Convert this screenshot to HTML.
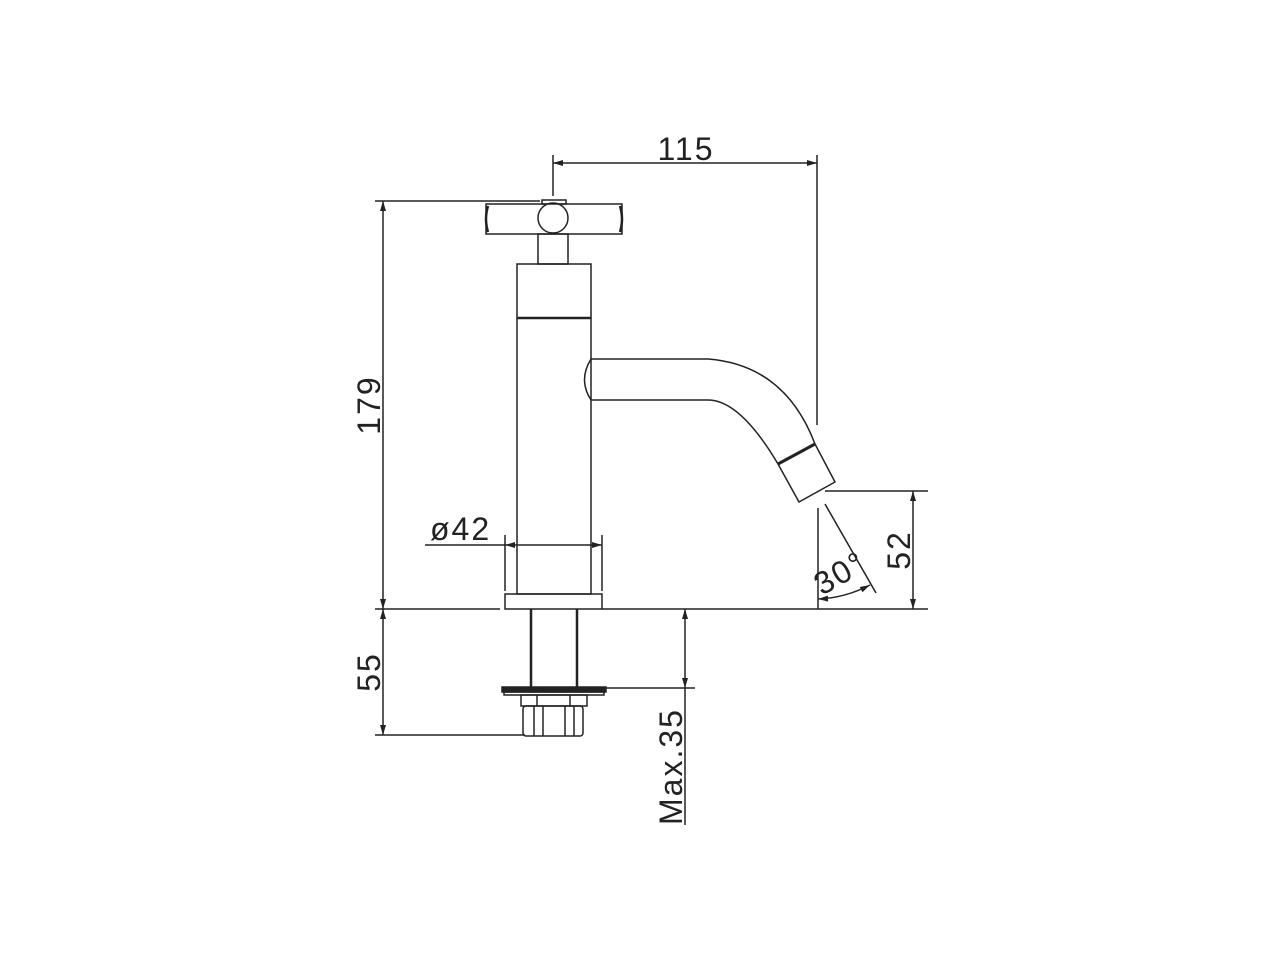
<!DOCTYPE html>
<html><head><style>body{margin:0;background:#fff}svg{display:block}text{font-family:"Liberation Sans",sans-serif;font-size:32px;fill:#222;letter-spacing:2px}</style></head><body>
<svg width="1280" height="960" viewBox="0 0 1280 960" stroke="#222" stroke-width="1.5" fill="none">
<defs><marker id="a" viewBox="0 0 10 6" refX="10" refY="3" markerWidth="14" markerHeight="6" markerUnits="userSpaceOnUse" orient="auto-start-reverse"><path d="M0,0L10,3L0,6z" fill="#222" stroke="none"/></marker></defs>
<rect x="486" y="204" width="136" height="30"/>
<path d="M488,206 Q484,219 488,232 M620,206 Q624,219 620,232" stroke-width="2.5"/>
<circle cx="553" cy="218" r="15" fill="#fff"/>
<rect x="542" y="200" width="24" height="4"/>
<rect x="538" y="234" width="30" height="30"/>
<rect x="517" y="264" width="74" height="330"/>
<line x1="517" y1="318" x2="591" y2="318" stroke-width="2.5"/>
<path d="M591,359 L708,359 Q785,365 815,444 L835,482 L799,502 L778,464 Q740,400 708,400 L591,400"/>
<path d="M591,359 Q578,380 591,400"/>
<line x1="778" y1="464" x2="815" y2="444" stroke-width="3"/>
<rect x="505" y="594" width="97" height="15"/>
<line x1="375" y1="609" x2="500" y2="609"/>
<line x1="602" y1="609" x2="928" y2="609"/>
<line x1="531" y1="609" x2="531" y2="688" stroke-width="2.5"/>
<line x1="577" y1="609" x2="577" y2="688" stroke-width="2.5"/>
<rect x="502" y="687" width="104" height="5" fill="#222"/>
<rect x="504" y="692" width="100" height="3"/>
<rect x="521" y="695" width="66" height="11"/>
<line x1="537" y1="695" x2="537" y2="706"/><line x1="570" y1="695" x2="570" y2="706"/>
<rect x="523" y="706" width="60" height="30" rx="3"/>
<line x1="534" y1="706" x2="534" y2="736"/><line x1="543" y1="706" x2="543" y2="736"/>
<line x1="565" y1="706" x2="565" y2="736"/><line x1="574" y1="706" x2="574" y2="736"/>
<line x1="606" y1="688" x2="695" y2="688"/>
<line x1="553" y1="155" x2="553" y2="196"/>
<line x1="817" y1="155" x2="817" y2="425"/>
<line x1="553" y1="163" x2="817" y2="163" marker-start="url(#a)" marker-end="url(#a)"/>
<text x="686" y="160" text-anchor="middle" stroke="none">115</text>
<line x1="375" y1="201" x2="540" y2="201"/>
<line x1="383" y1="201" x2="383" y2="609" marker-start="url(#a)" marker-end="url(#a)"/>
<text transform="translate(380,405) rotate(-90)" text-anchor="middle" stroke="none">179</text>
<line x1="375" y1="735" x2="525" y2="735"/>
<line x1="383" y1="609" x2="383" y2="735" marker-start="url(#a)" marker-end="url(#a)"/>
<text transform="translate(380,672) rotate(-90)" text-anchor="middle" stroke="none">55</text>
<line x1="685" y1="609" x2="685" y2="688" marker-start="url(#a)" marker-end="url(#a)"/>
<line x1="685" y1="688" x2="685" y2="825"/>
<text transform="translate(682,825) rotate(-90)" stroke="none">Max.35</text>
<line x1="825" y1="491" x2="928" y2="491"/>
<line x1="913" y1="491" x2="913" y2="609" marker-start="url(#a)" marker-end="url(#a)"/>
<text transform="translate(910,550) rotate(-90)" text-anchor="middle" stroke="none">52</text>
<line x1="818" y1="508" x2="818" y2="609"/>
<line x1="825" y1="504" x2="876" y2="593"/>
<path d="M818,599 Q845,598 870,585" marker-start="url(#a)" marker-end="url(#a)"/>
<text transform="translate(822,596) rotate(-30)" stroke="none">30°</text>
<line x1="505" y1="535" x2="505" y2="591"/>
<line x1="602" y1="535" x2="602" y2="591"/>
<line x1="425" y1="545" x2="505" y2="545"/>
<line x1="505" y1="545" x2="602" y2="545" marker-start="url(#a)" marker-end="url(#a)"/>
<text x="430" y="540" stroke="none">ø42</text>
</svg></body></html>
